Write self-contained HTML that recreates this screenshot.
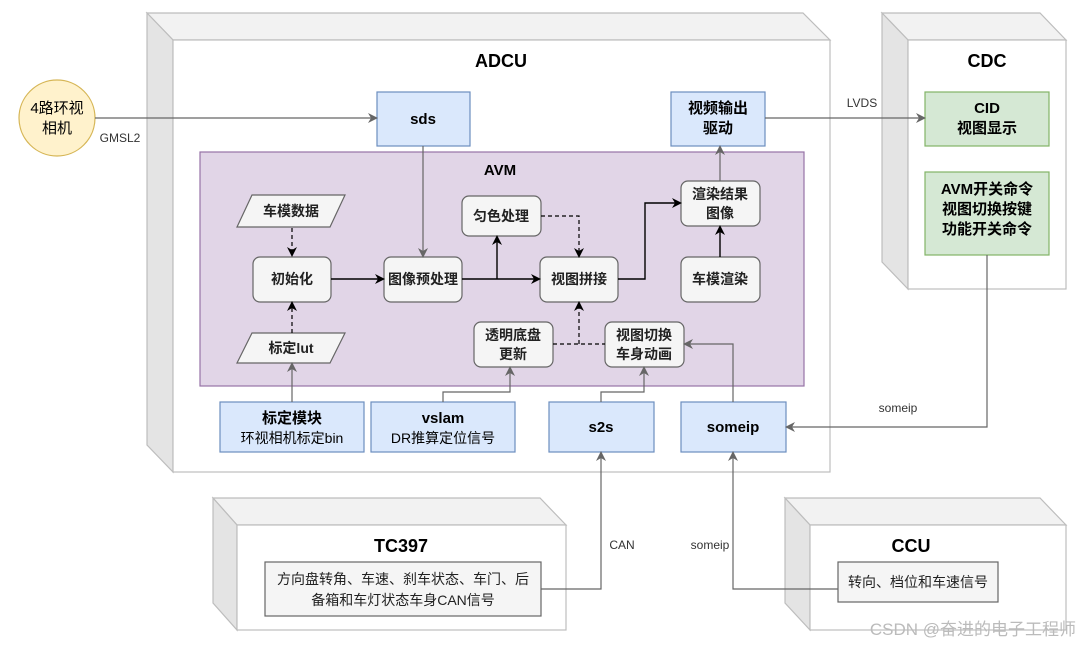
<!DOCTYPE html>
<html><head><meta charset="utf-8"><style>
body{margin:0;background:#fff}
svg text{font-family:"Liberation Sans","Noto Sans CJK SC",sans-serif}
</style></head><body>
<svg width="1080" height="645" viewBox="0 0 1080 645" xmlns="http://www.w3.org/2000/svg">
<defs>
<marker id="ag" markerWidth="10" markerHeight="10" refX="8" refY="5" orient="auto" markerUnits="userSpaceOnUse"><path d="M0,0 L10,5 L0,10 L3,5 Z" fill="#666"/></marker>
<marker id="ab" markerWidth="10" markerHeight="10" refX="8" refY="5" orient="auto" markerUnits="userSpaceOnUse"><path d="M0,0 L10,5 L0,10 L3,5 Z" fill="#000"/></marker>
</defs>
<g stroke="#bdbdbd" stroke-width="1.2">
<path d="M147,13 L803,13 L830,40 L173,40 Z" fill="#f2f2f2"/>
<path d="M147,13 L173,40 L173,472 L147,445 Z" fill="#e4e4e4"/>
<rect x="173" y="40" width="657" height="432" fill="#fff"/>
<path d="M882,13 L1040,13 L1066,40 L908,40 Z" fill="#f2f2f2"/>
<path d="M882,13 L908,40 L908,289 L882,262 Z" fill="#e4e4e4"/>
<rect x="908" y="40" width="158" height="249" fill="#fff"/>
<path d="M213,498 L540,498 L566,525 L237,525 Z" fill="#f2f2f2"/>
<path d="M213,498 L237,525 L237,630 L213,603 Z" fill="#e4e4e4"/>
<rect x="237" y="525" width="329" height="105" fill="#fff"/>
<path d="M785,498 L1040,498 L1066,525 L810,525 Z" fill="#f2f2f2"/>
<path d="M785,498 L810,525 L810,630 L785,603 Z" fill="#e4e4e4"/>
<rect x="810" y="525" width="256" height="105" fill="#fff"/>
</g>
<g font-weight="bold" font-size="18" text-anchor="middle" fill="#000">
<text x="501" y="67">ADCU</text>
<text x="987" y="67">CDC</text>
<text x="401" y="552">TC397</text>
<text x="911" y="552">CCU</text>
</g>
<rect x="200" y="152" width="604" height="234" fill="#e1d5e7" stroke="#9673a6" stroke-width="1.2"/>
<text x="500" y="175" font-weight="bold" font-size="15" text-anchor="middle">AVM</text>
<circle cx="57" cy="118" r="38" fill="#fff2cc" stroke="#d6b656" stroke-width="1.2"/>
<text x="57" y="113" font-size="15" text-anchor="middle">4路环视</text>
<text x="57" y="133" font-size="15" text-anchor="middle">相机</text>
<g fill="#dae8fc" stroke="#6c8ebf" stroke-width="1.2">
<rect x="377" y="92" width="93" height="54"/>
<rect x="671" y="92" width="94" height="54"/>
<rect x="220" y="402" width="144" height="50"/>
<rect x="371" y="402" width="144" height="50"/>
<rect x="549" y="402" width="105" height="50"/>
<rect x="681" y="402" width="105" height="50"/>
</g>
<g fill="#d5e8d4" stroke="#82b366" stroke-width="1.2">
<rect x="925" y="92" width="124" height="54"/>
<rect x="925" y="172" width="124" height="83"/>
</g>
<g font-size="15" text-anchor="middle" font-weight="bold">
<text x="423" y="124">sds</text>
<text x="718" y="113">视频输出</text><text x="718" y="133">驱动</text>
<text x="292" y="423">标定模块</text>
<text x="443" y="423">vslam</text>
<text x="601" y="432">s2s</text>
<text x="733" y="432">someip</text>
<text x="987" y="113">CID</text><text x="987" y="133">视图显示</text>
<text x="987" y="194">AVM开关命令</text><text x="987" y="214">视图切换按键</text><text x="987" y="234">功能开关命令</text>
</g>
<g font-size="14" text-anchor="middle">
<text x="292" y="443">环视相机标定bin</text>
<text x="443" y="443">DR推算定位信号</text>
</g>
<g fill="#f5f5f5" stroke="#666" stroke-width="1.2">
<path d="M252,195 L345,195 L330,227 L237,227 Z"/>
<path d="M252,333 L345,333 L330,363 L237,363 Z"/>
<rect x="253" y="257" width="78" height="45" rx="7"/>
<rect x="384" y="257" width="78" height="45" rx="7"/>
<rect x="462" y="196" width="79" height="40" rx="7"/>
<rect x="540" y="257" width="78" height="45" rx="7"/>
<rect x="681" y="181" width="79" height="45" rx="7"/>
<rect x="681" y="257" width="79" height="45" rx="7"/>
<rect x="474" y="322" width="79" height="45" rx="7"/>
<rect x="605" y="322" width="79" height="45" rx="7"/>
</g>
<g font-size="14" text-anchor="middle" font-weight="bold" fill="#222">
<text x="291" y="216">车模数据</text>
<text x="291" y="353">标定lut</text>
<text x="292" y="284">初始化</text>
<text x="423" y="284">图像预处理</text>
<text x="501" y="221">匀色处理</text>
<text x="579" y="284">视图拼接</text>
<text x="720" y="199">渲染结果</text><text x="720" y="218">图像</text>
<text x="720" y="284">车模渲染</text>
<text x="513" y="340">透明底盘</text><text x="513" y="359">更新</text>
<text x="644" y="340">视图切换</text><text x="644" y="359">车身动画</text>
</g>
<g fill="none" stroke="#666" stroke-width="1.2" marker-end="url(#ag)">
<path d="M95,118 L376,118"/>
<path d="M423,146 L423,256"/>
<path d="M765,118 L924,118"/>
<path d="M720,181 L720,147"/>
<path d="M292,402 L292,364"/>
<path d="M443,402 L443,392 L510,392 L510,368"/>
<path d="M601,402 L601,392 L644,392 L644,368"/>
<path d="M733,402 L733,344 L685,344"/>
<path d="M987,255 L987,427 L787,427"/>
<path d="M541,589 L601,589 L601,453"/>
<path d="M838,589 L733,589 L733,453"/>
</g>
<g fill="none" stroke="#000" stroke-width="1.4" marker-end="url(#ab)">
<path d="M331,279 L383,279"/>
<path d="M462,279 L539,279"/>
<path d="M497,279 L497,237"/>
<path d="M618,279 L645,279 L645,203 L680,203"/>
<path d="M720,257 L720,227"/>
</g>
<g fill="none" stroke="#000" stroke-width="1.2" stroke-dasharray="4,3">
<path d="M292,228 L292,255" marker-end="url(#ab)"/>
<path d="M292,333 L292,303" marker-end="url(#ab)"/>
<path d="M541,216 L579,216 L579,256" marker-end="url(#ab)"/>
<path d="M553,344 L605,344"/>
<path d="M579,344 L579,303" marker-end="url(#ab)"/>
</g>
<g fill="#f5f5f5" stroke="#666" stroke-width="1.2">
<rect x="265" y="562" width="276" height="54"/>
<rect x="838" y="562" width="160" height="40"/>
</g>
<g font-size="14" text-anchor="middle" fill="#222">
<text x="403" y="584">方向盘转角、车速、刹车状态、车门、后</text>
<text x="403" y="605">备箱和车灯状态车身CAN信号</text>
<text x="918" y="587">转向、档位和车速信号</text>
</g>
<g font-size="12" fill="#333" text-anchor="middle">
<text x="120" y="142">GMSL2</text>
<text x="862" y="107">LVDS</text>
<text x="898" y="412">someip</text>
<text x="622" y="549">CAN</text>
<text x="710" y="549">someip</text>
</g>
<text x="1076" y="635" font-size="17" fill="#bbb" text-anchor="end">CSDN @奋进的电子工程师</text>
</svg>
</body></html>
